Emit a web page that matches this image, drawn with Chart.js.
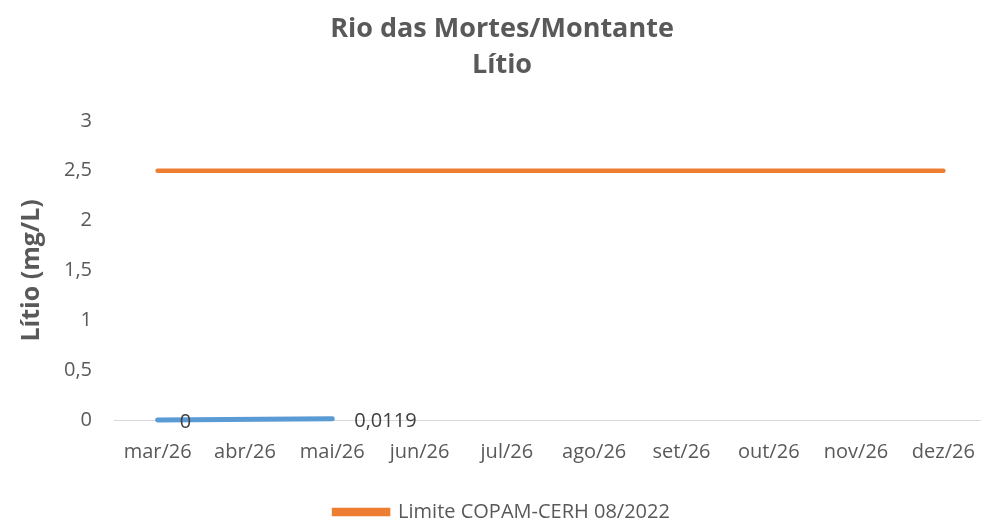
<!DOCTYPE html>
<html>
<head>
<meta charset="utf-8">
<script src="https://cdn.jsdelivr.net/npm/chart.js@4"></script>
<style>
  html, body { margin: 0; padding: 0; background: #fff; overflow: hidden; }
  #wrap { width: 990px; height: 527px; }
</style>
</head>
<body>
<div id="wrap"><canvas id="c"></canvas></div>
<script>
// data
const months = ['mar/26', 'abr/26', 'mai/26', 'jun/26', 'jul/26', 'ago/26', 'set/26', 'out/26', 'nov/26', 'dez/26'];
const litio = [0, null, 0.0119, null, null, null, null, null, null, null];
const limite = [2.5, 2.5, 2.5, 2.5, 2.5, 2.5, 2.5, 2.5, 2.5, 2.5];
const yTicks = [0, 0.5, 1, 1.5, 2, 2.5, 3];

const gray = '#595959';
const fontFam = '"Open Sans", Lato, sans-serif';

// small labels next to the blue points
const pointLabels = {
  id: 'pointLabels',
  afterDatasetsDraw(chart) {
    const ctx = chart.ctx;
    const meta = chart.getDatasetMeta(0);
    ctx.save();
    ctx.font = '20px ' + fontFam;
    ctx.fillStyle = '#404040';
    ctx.textBaseline = 'middle';
    ctx.textAlign = 'left';
    meta.data.forEach((pt, i) => {
      if (litio[i] === null) return;
      ctx.fillText(litio[i].toString().replace('.', ','), pt.x + 22, pt.y + 2);
    });
    ctx.restore();
  }
};

// legend sits a little lower in the original
const legendNudge = {
  id: 'legendNudge',
  afterLayout(chart) {
    chart.legend.top += 5;
    chart.legend.bottom += 5;
  }
};

new Chart(document.getElementById('c'), {
  type: 'line',
  data: {
    labels: months,
    datasets: [
      {
        label: 'Lítio',
        data: litio,
        borderColor: '#5B9BD5',
        backgroundColor: '#5B9BD5',
        borderWidth: 5,
        borderCapStyle: 'round',
        pointRadius: 0,
        spanGaps: true,
        clip: false
      },
      {
        label: 'Limite COPAM-CERH 08/2022',
        data: limite,
        borderColor: '#ED7D31',
        backgroundColor: '#ED7D31',
        borderWidth: 4.5,
        borderCapStyle: 'round',
        pointRadius: 0
      }
    ]
  },
  options: {
    responsive: true,
    maintainAspectRatio: false,
    animation: false,
    layout: { padding: { left: 17, right: 3, top: 11, bottom: 0 } },
    plugins: {
      title: {
        display: true,
        text: ['Rio das Mortes/Montante', 'Lítio'],
        color: gray,
        font: { family: fontFam, size: 27, weight: 'bold', lineHeight: 1.33 },
        padding: { top: 0, bottom: 38 }
      },
      legend: {
        position: 'bottom',
        labels: {
          filter: item => item.datasetIndex === 1,
          color: gray,
          font: { family: fontFam, size: 20 },
          boxWidth: 54,
          boxHeight: 4,
          padding: 0
        }
      },
      tooltip: { enabled: false }
    },
    scales: {
      x: {
        offset: true,
        grid: { display: false },
        border: { display: true, color: '#D9D9D9', width: 1 },
        afterFit: axis => { axis.height = 77; },
        ticks: { color: gray, font: { family: fontFam, size: 20 }, padding: 12, maxRotation: 0 }
      },
      y: {
        min: 0,
        max: 3,
        afterBuildTicks: axis => { axis.ticks = yTicks.map(v => ({ value: v })); },
        afterFit: axis => { axis.width = 97; },
        grid: { display: false },
        border: { display: false },
        ticks: {
          color: gray,
          font: { family: fontFam, size: 20 },
          padding: 14,
          callback: v => v.toString().replace('.', ',')
        },
        title: {
          display: true,
          text: 'Lítio (mg/L)',
          color: gray,
          font: { family: fontFam, size: 25, weight: 'bold' },
          padding: { top: 0, bottom: 0 }
        }
      }
    }
  },
  plugins: [pointLabels, legendNudge]
});
</script>
</body>
</html>
